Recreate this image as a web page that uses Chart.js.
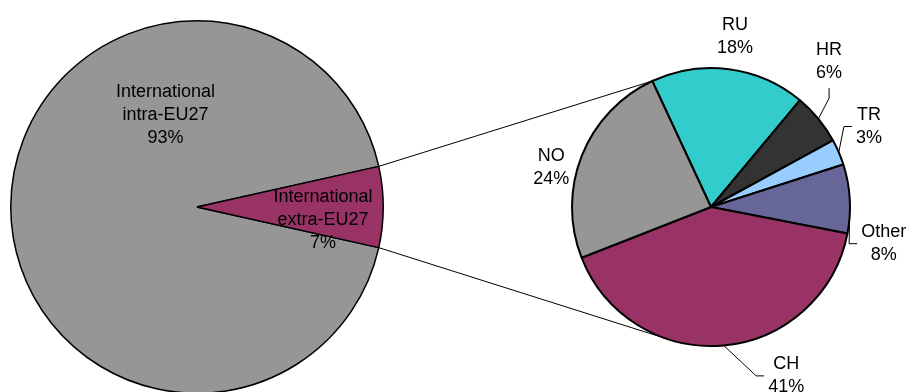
<!DOCTYPE html>
<html lang="en">
<head>
<meta charset="UTF-8">
<title>International - intra / extra EU27</title>
<script src="https://cdn.jsdelivr.net/npm/chart.js"></script>
<style>
  html, body { margin: 0; padding: 0; background: #fff; overflow: hidden; }
  #container { position: relative; width: 910px; height: 392px; overflow: hidden; }
  #container canvas { position: absolute; left: 0; top: 0; }
</style>
</head>
<body>
<div id="container">
  <canvas id="graficoPrincipal" width="910" height="420" style="width:910px;height:420px"></canvas>
  <canvas id="graficoDetalhe" width="910" height="420" style="width:910px;height:420px"></canvas>
</div>
<script>
// data
const mainLabels = [["International", "intra-EU27"], ["International", "extra-EU27"]];
const mainValues = [93, 7];
const mainColors = ['#969696', '#993366'];

const detailLabels = ["RU", "HR", "TR", "Other", "CH", "NO"];
const detailValues = [18, 6, 3, 8, 41, 24];
const detailColors = ['#33CCCC', '#333333', '#99CCFF', '#666699', '#993366', '#969696'];

const FONT = '18px "Liberation Sans", Arial, sans-serif';
const LINE_H = 23;

// where each label sits: angle (deg, canvas) and distance in radius units
const mainLabelPos = [
    { ang: -109, dist: 0.52 },
    { ang: 6, dist: 0.68 }
];
const detailLabelPos = [
    { ang: -82, dist: 1.24 },
    { ang: -51, dist: 1.35, leader: 'bottom' },
    { ang: -27, dist: 1.275, leader: 'left' },
    { ang: 12, dist: 1.27, leader: 'left' },
    { ang: 66, dist: 1.33, leader: 'left' },
    { ang: 194, dist: 1.185 }
];

const rotulosPlugin = {
    id: 'rotulos',
    afterDatasetsDraw(chart, args, opts) {
        const ctx = chart.ctx;
        const arcs = chart.getDatasetMeta(0).data;
        const values = chart.data.datasets[0].data;
        ctx.save();
        ctx.font = FONT;
        ctx.textAlign = 'center';
        ctx.textBaseline = 'middle';
        arcs.forEach((arc, i) => {
            const p = opts.pos[i];
            const a = p.ang * Math.PI / 180;
            const lx = arc.x + Math.cos(a) * arc.outerRadius * p.dist;
            const ly = arc.y + Math.sin(a) * arc.outerRadius * p.dist;
            let nome = chart.data.labels[i];
            const linhas = (Array.isArray(nome) ? nome.slice() : [nome]);
            linhas.push(values[i] + '%');
            const n = linhas.length;
            ctx.fillStyle = '#000';
            linhas.forEach((t, k) => {
                ctx.fillText(t, lx, ly + (k - (n - 1) / 2) * LINE_H);
            });
            if (p.leader) {
                const largura = Math.max(...linhas.map(t => ctx.measureText(t).width));
                const mid = (arc.startAngle + arc.endAngle) / 2;
                const ex = arc.x + Math.cos(mid) * arc.outerRadius;
                const ey = arc.y + Math.sin(mid) * arc.outerRadius;
                let ax, ay, bx, by;
                if (p.leader === 'left') {
                    ax = lx - largura / 2 - 4; ay = ly;
                    bx = ax - 8; by = ay;
                } else {
                    ax = lx; ay = ly + n * LINE_H / 2 + 4;
                    bx = ax; by = ay + 10;
                }
                ctx.strokeStyle = '#000';
                ctx.lineWidth = 1;
                ctx.beginPath();
                ctx.moveTo(ex, ey);
                ctx.lineTo(bx, by);
                ctx.lineTo(ax, ay);
                ctx.stroke();
            }
        });
        ctx.restore();
    }
};

const graficoPrincipal = new Chart(document.getElementById('graficoPrincipal'), {
    type: 'pie',
    data: {
        labels: mainLabels,
        datasets: [{
            data: mainValues,
            backgroundColor: mainColors,
            borderColor: '#000',
            borderWidth: 1.5
        }]
    },
    options: {
        responsive: false,
        animation: false,
        events: [],
        rotation: 102.6,
        layout: { padding: { left: 10, right: 526, top: 20, bottom: 26 } },
        plugins: {
            legend: { display: false },
            tooltip: { enabled: false },
            rotulos: { pos: mainLabelPos }
        }
    },
    plugins: [rotulosPlugin]
});

// lines joining the extra-EU27 slice with the detail pie
const ligacaoPlugin = {
    id: 'ligacao',
    beforeDatasetsDraw(chart) {
        const fatia = graficoPrincipal.getDatasetMeta(0).data[1];
        const arcs = chart.getDatasetMeta(0).data;
        const c = arcs[0];
        const r = c.outerRadius;
        const p1 = [fatia.x + Math.cos(fatia.startAngle) * fatia.outerRadius, fatia.y + Math.sin(fatia.startAngle) * fatia.outerRadius];
        const p2 = [fatia.x + Math.cos(fatia.endAngle) * fatia.outerRadius, fatia.y + Math.sin(fatia.endAngle) * fatia.outerRadius];
        const q1 = [c.x + Math.cos(c.startAngle) * r, c.y + Math.sin(c.startAngle) * r];
        const baixo = 107 * Math.PI / 180;
        const q2 = [c.x + Math.cos(baixo) * r, c.y + Math.sin(baixo) * r];
        const ctx = chart.ctx;
        ctx.save();
        ctx.strokeStyle = '#000';
        ctx.lineWidth = 1;
        ctx.beginPath();
        ctx.moveTo(p1[0], p1[1]); ctx.lineTo(q1[0], q1[1]);
        ctx.moveTo(p2[0], p2[1]); ctx.lineTo(q2[0], q2[1]);
        ctx.stroke();
        ctx.restore();
    }
};

new Chart(document.getElementById('graficoDetalhe'), {
    type: 'pie',
    data: {
        labels: detailLabels,
        datasets: [{
            data: detailValues,
            backgroundColor: detailColors,
            borderColor: '#000',
            borderWidth: 2
        }]
    },
    options: {
        responsive: false,
        animation: false,
        events: [],
        rotation: -25,
        layout: { padding: { left: 571, right: 59, top: 67, bottom: 73 } },
        plugins: {
            legend: { display: false },
            tooltip: { enabled: false },
            rotulos: { pos: detailLabelPos }
        }
    },
    plugins: [ligacaoPlugin, rotulosPlugin]
});
</script>
</body>
</html>
